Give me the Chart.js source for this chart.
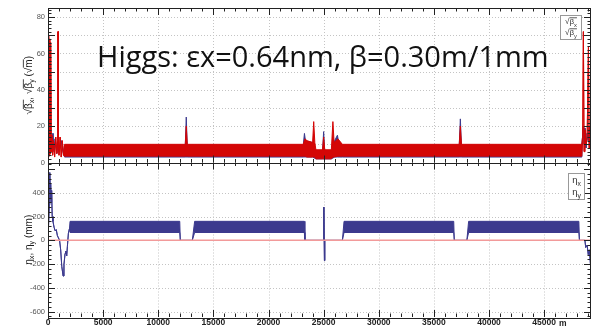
<!DOCTYPE html>
<html>
<head>
<meta charset="utf-8">
<script src="https://cdn.jsdelivr.net/npm/chart.js@4.4.1/dist/chart.umd.min.js"></script>
<style>
  html, body { margin: 0; padding: 0; background: #fff; }
</style>
</head>
<body>
<canvas id="optics" width="592" height="330"></canvas>
<script>
// Tick labels
var xTicks = [0, 5000, 10000, 15000, 20000, 25000, 30000, 35000, 40000, 45000];
var topTicks = [0, 10, 20, 30, 40, 50, 60, 70, 80];
var botTicks = [-600, -400, -200, 0, 200, 400];

// sqrt(beta_y) (red): position s [m], upper / lower edge of the oscillation band
var byS  = [0, 40, 60, 80, 120, 160, 200, 240, 300, 350, 420, 500, 600, 700, 800, 880, 910, 940, 1000, 1100, 1200, 1300, 1400,
            1500, 12450, 12540, 12630,
            23150, 23300, 23500, 24000, 24100, 24200, 24300, 24900, 25000, 25100, 25700, 25840, 25950, 26300, 26700,
            37300, 37400, 37500,
            48420, 48500, 48560, 48620, 48700, 48800, 48900, 49020, 49080, 49150, 49250];
var byHi = [8, 20, 3, 70, 4, 68, 5, 66, 6, 15, 4, 12, 3, 14, 5, 12, 72, 10, 4, 14, 3, 12, 4,
            10, 10, 20, 10,
            10, 13, 12, 11, 22.5, 11, 7, 7, 14, 7, 7, 22.5, 11, 13, 10,
            10, 20, 10,
            10, 15, 72, 6, 18, 10, 14, 64, 8, 20, 10];
var byLo = [8, 20, 3, 70, 4, 68, 5, 66, 6, 15, 4, 12, 3, 14, 5, 12, 72, 10, 4, 14, 3, 12, 4,
            3.5, 3.5, 3.5, 3.5,
            3.5, 3.5, 3, 3, 3, 3, 2, 2, 2, 2, 2, 3, 3, 3.5, 3.5,
            3.5, 3.5, 3.5,
            3.5, 15, 72, 6, 18, 10, 14, 64, 8, 20, 10];

// sqrt(beta_x) (blue)
var bxS  = [0, 40, 80, 120, 160, 250, 350, 450, 550, 650, 800, 900, 1000, 1200, 1400,
            1500, 12450, 12540, 12630,
            23150, 23260, 23350, 24000, 24300, 24900, 25000, 25100, 25700, 26000, 26250, 26400, 26700,
            37300, 37400, 37500,
            48420, 48480, 48550, 48620, 48700, 48800, 48900, 49000, 49100, 49250];
var bxHi = [10, 22, 6, 18, 5, 14, 8, 16, 6, 13, 5, 11, 6, 12, 5,
            9.5, 9.5, 25, 9.5,
            9.5, 16, 12, 11, 6, 6, 17, 6, 6, 12, 15, 10, 9.5,
            9.5, 24, 9.5,
            9.5, 14, 20, 10, 19, 8, 16, 12, 20, 15];
var bxLo = [10, 22, 6, 18, 5, 14, 8, 16, 6, 13, 5, 11, 6, 12, 5,
            3, 3, 3, 3,
            3, 3, 3, 3, 2, 2, 2, 2, 2, 3, 3, 3, 3,
            3, 3, 3,
            3, 14, 20, 10, 19, 8, 16, 12, 20, 15];

// eta_x (blue) [mm]
var exS  = [0, 120, 160, 200, 240, 280, 330, 380, 450, 550, 650, 750, 850, 950, 1050, 1150, 1250, 1370, 1450, 1550, 1620, 1700, 1760, 1850, 1950,
            2000, 11950, 12000, 13090, 13300,
            23250, 23300, 24980, 25020, 25070, 25110, 26700, 26850,
            36800, 36850, 37990, 38150,
            48150, 48200, 48700, 48770, 48900, 49000, 49100, 49250];
var exHi = [0, 300, 570, 350, 480, 320, 420, 200, 160, 110, 80, 90, 40, 20, 0, -80, -220, -300, -200, -110, -90, -130, -50, 60, 100,
            160, 160, 0, 0, 160,
            160, 0, 0, 280, -170, 0, 0, 160,
            160, 0, 0, 160,
            160, 0, 0, -60, -40, -120, -80, -260];
var exLo = [0, 300, 570, 350, 480, 320, 420, 200, 160, 110, 80, 90, 40, 20, 0, -80, -220, -300, -200, -110, -90, -130, -50, 60, 100,
            66, 66, 0, 0, 66,
            66, 0, 0, 280, -170, 0, 0, 66,
            66, 0, 0, 66,
            66, 0, 0, -60, -40, -120, -80, -260];

// eta_y (red)
var eyS = [0, 49250];
var eyV = [0, 0];

var RED = '#d40606';
var BLUE = '#3c3a8e';

function pts(xs, ys) {
    return xs.map(function (x, i) { return { x: x, y: ys[i] }; });
}

function line(ctx, x1, y1, x2, y2) {
    ctx.beginPath();
    ctx.moveTo(x1, y1);
    ctx.lineTo(x2, y2);
    ctx.stroke();
}

// parts: [text, 's' for subscript, 1 for overline]
function rich(ctx, parts, size, draw) {
    var x = 0;
    parts.forEach(function (p) {
        var f = p[1] === 's' ? size * 0.72 : size;
        ctx.font = f + 'px "Liberation Sans"';
        var w = ctx.measureText(p[0]).width;
        if (draw) {
            ctx.fillText(p[0], x, p[1] === 's' ? size * 0.28 : 0);
            if (p[2]) ctx.fillRect(x, -size * 0.86, w, 0.8);
        }
        x += w;
    });
    return x;
}

function drawRich(ctx, parts, size, cx, cy, vertical) {
    var w = rich(ctx, parts, size, false);
    ctx.save();
    ctx.translate(cx, cy);
    if (vertical) ctx.rotate(-Math.PI / 2);
    ctx.translate(-w / 2, size * 0.35);
    rich(ctx, parts, size, true);
    ctx.restore();
}

var betaTitle = [['√', ''], ['β', '', 1], ['x', 's', 1], [', ', ''], ['√', ''], ['β', '', 1], ['y', 's', 1],
                 [' (', ''], ['√', ''], ['m', '', 1], [')', '']];
var etaTitle = [['η', ''], ['x', 's'], [', ', ''], ['η', ''], ['y', 's'], [' (mm)', '']];

var deco = {
    id: 'deco',
    beforeDatasetsDraw: function (chart) {
        var ctx = chart.ctx, sx = chart.scales.x;
        ctx.save();
        ctx.strokeStyle = '#c4c4c4';
        ctx.lineWidth = 1;
        ctx.setLineDash([1, 2]);
        [['yTop', topTicks], ['yBot', botTicks]].forEach(function (p) {
            var sy = chart.scales[p[0]];
            xTicks.forEach(function (v) {
                if (v === 0) return;
                var px = Math.round(sx.getPixelForValue(v)) + 0.5;
                line(ctx, px, sy.top, px, sy.bottom);
            });
            p[1].forEach(function (v) {
                var py = Math.round(sy.getPixelForValue(v)) + 0.5;
                line(ctx, sx.left, py, sx.right, py);
            });
        });
        ctx.restore();
    },
    afterDraw: function (chart) {
        var ctx = chart.ctx, sx = chart.scales.x;
        ctx.save();
        ctx.strokeStyle = '#222';
        ctx.lineWidth = 1;
        [['yTop', 10, 2], ['yBot', 200, 40]].forEach(function (p) {
            var sy = chart.scales[p[0]];
            var t = sy.top, b = sy.bottom;
            var v, len, px, py;
            for (v = 0; v <= sx.max; v += 1000) {
                len = v % 5000 === 0 ? 7 : 3.5;
                px = Math.round(sx.getPixelForValue(v)) + 0.5;
                line(ctx, px, t, px, t + len);
                line(ctx, px, b, px, b - len);
            }
            for (v = Math.ceil(sy.min / p[2]) * p[2]; v <= sy.max; v += p[2]) {
                len = Math.abs(v % p[1]) < 1e-6 ? 7 : 3.5;
                py = Math.round(sy.getPixelForValue(v)) + 0.5;
                line(ctx, sx.left, py, sx.left + len, py);
                line(ctx, sx.right, py, sx.right - len, py);
            }
            ctx.strokeRect(Math.round(sx.left) + 0.5, Math.round(t) + 0.5, Math.round(sx.right - sx.left) - 1, Math.round(b - t));
        });

        // legends
        ctx.fillStyle = '#fff';
        ctx.strokeStyle = '#999';
        ctx.fillRect(560.5, 15.5, 21, 24);
        ctx.strokeRect(560.5, 15.5, 21, 24);
        ctx.fillRect(568.5, 173.5, 16, 26);
        ctx.strokeRect(568.5, 173.5, 16, 26);
        ctx.fillStyle = '#333';
        drawRich(ctx, [['√', ''], ['β', '', 1], ['x', 's', 1]], 8, 571, 21.5, false);
        drawRich(ctx, [['√', ''], ['β', '', 1], ['y', 's', 1]], 8, 571, 32.5, false);
        drawRich(ctx, [['η', ''], ['x', 's']], 9.5, 576.5, 180, false);
        drawRich(ctx, [['η', ''], ['y', 's']], 9.5, 576.5, 192, false);

        // axis titles
        ctx.fillStyle = '#1a1a1a';
        drawRich(ctx, betaTitle, 10, 28, (chart.scales.yTop.top + chart.scales.yTop.bottom) / 2, true);
        drawRich(ctx, etaTitle, 10, 28, (chart.scales.yBot.top + chart.scales.yBot.bottom) / 2, true);

        // unit on the s axis
        ctx.font = 'bold 8.5px "Liberation Sans"';
        ctx.fillStyle = '#222';
        ctx.textBaseline = 'middle';
        ctx.fillText('m', 559, 323.5);

        // plot title
        ctx.textBaseline = 'alphabetic';
        ctx.fillStyle = '#111';
        ctx.font = '29px "Open Sans"';
        ctx.fillText('Higgs: εx=0.64nm, β=0.30m/1mm', 97, 66.5);
        ctx.restore();
    }
};

function yAxis(min, max, ticks) {
    return {
        type: 'linear',
        position: 'left',
        stack: 'panels',
        stackWeight: 1,
        min: min,
        max: max,
        grid: { display: false, drawTicks: false },
        border: { display: false },
        afterBuildTicks: function (s) { s.ticks = ticks.map(function (v) { return { value: v }; }); },
        afterFit: function (s) { s.width = 48; },
        ticks: {
            padding: 3,
            color: '#555',
            font: { family: 'Liberation Sans', size: 7.5 },
            callback: function (v) { return String(v); }
        }
    };
}

var ctx = document.getElementById('optics');

var opticsChart = new Chart(ctx, {
    type: 'line',
    data: {
        datasets: [
            { data: pts(byS, byHi), borderColor: RED, yAxisID: 'yTop', fill: false },
            { data: pts(byS, byLo), borderColor: RED, backgroundColor: RED, yAxisID: 'yTop', fill: '-1' },
            { data: pts(bxS, bxHi), borderColor: BLUE, yAxisID: 'yTop', fill: false },
            { data: pts(bxS, bxLo), borderColor: BLUE, backgroundColor: BLUE, yAxisID: 'yTop', fill: '-1' },
            { data: pts(eyS, eyV), borderColor: '#f29a9a', borderWidth: 1.5, yAxisID: 'yBot', fill: false },
            { data: pts(exS, exHi), borderColor: BLUE, yAxisID: 'yBot', fill: false },
            { data: pts(exS, exLo), borderColor: BLUE, backgroundColor: BLUE, yAxisID: 'yBot', fill: '-1' }
        ]
    },
    options: {
        responsive: false,
        animation: false,
        layout: { padding: { top: 8, right: 1, left: 0, bottom: 0 } },
        elements: {
            point: { radius: 0 },
            line: { borderWidth: 1, tension: 0 }
        },
        plugins: {
            legend: { display: false },
            tooltip: { enabled: false }
        },
        scales: {
            x: {
                type: 'linear',
                min: 0,
                max: 49250,
                grid: { display: false, drawTicks: false },
                border: { display: false },
                afterBuildTicks: function (s) { s.ticks = xTicks.map(function (v) { return { value: v }; }); },
                afterFit: function (s) { s.height = 13; },
                ticks: {
                    padding: 1,
                    maxRotation: 0,
                    autoSkip: false,
                    color: '#222',
                    font: { family: 'Liberation Sans', size: 8.5, weight: 'bold' },
                    callback: function (v) { return String(v); }
                }
            },
            // the layout stacks these bottom-up, so the lower panel comes first
            yBot: yAxis(-645, 655, botTicks),
            yTop: yAxis(0, 85, topTicks)
        }
    },
    plugins: [deco]
});
</script>
</body>
</html>
